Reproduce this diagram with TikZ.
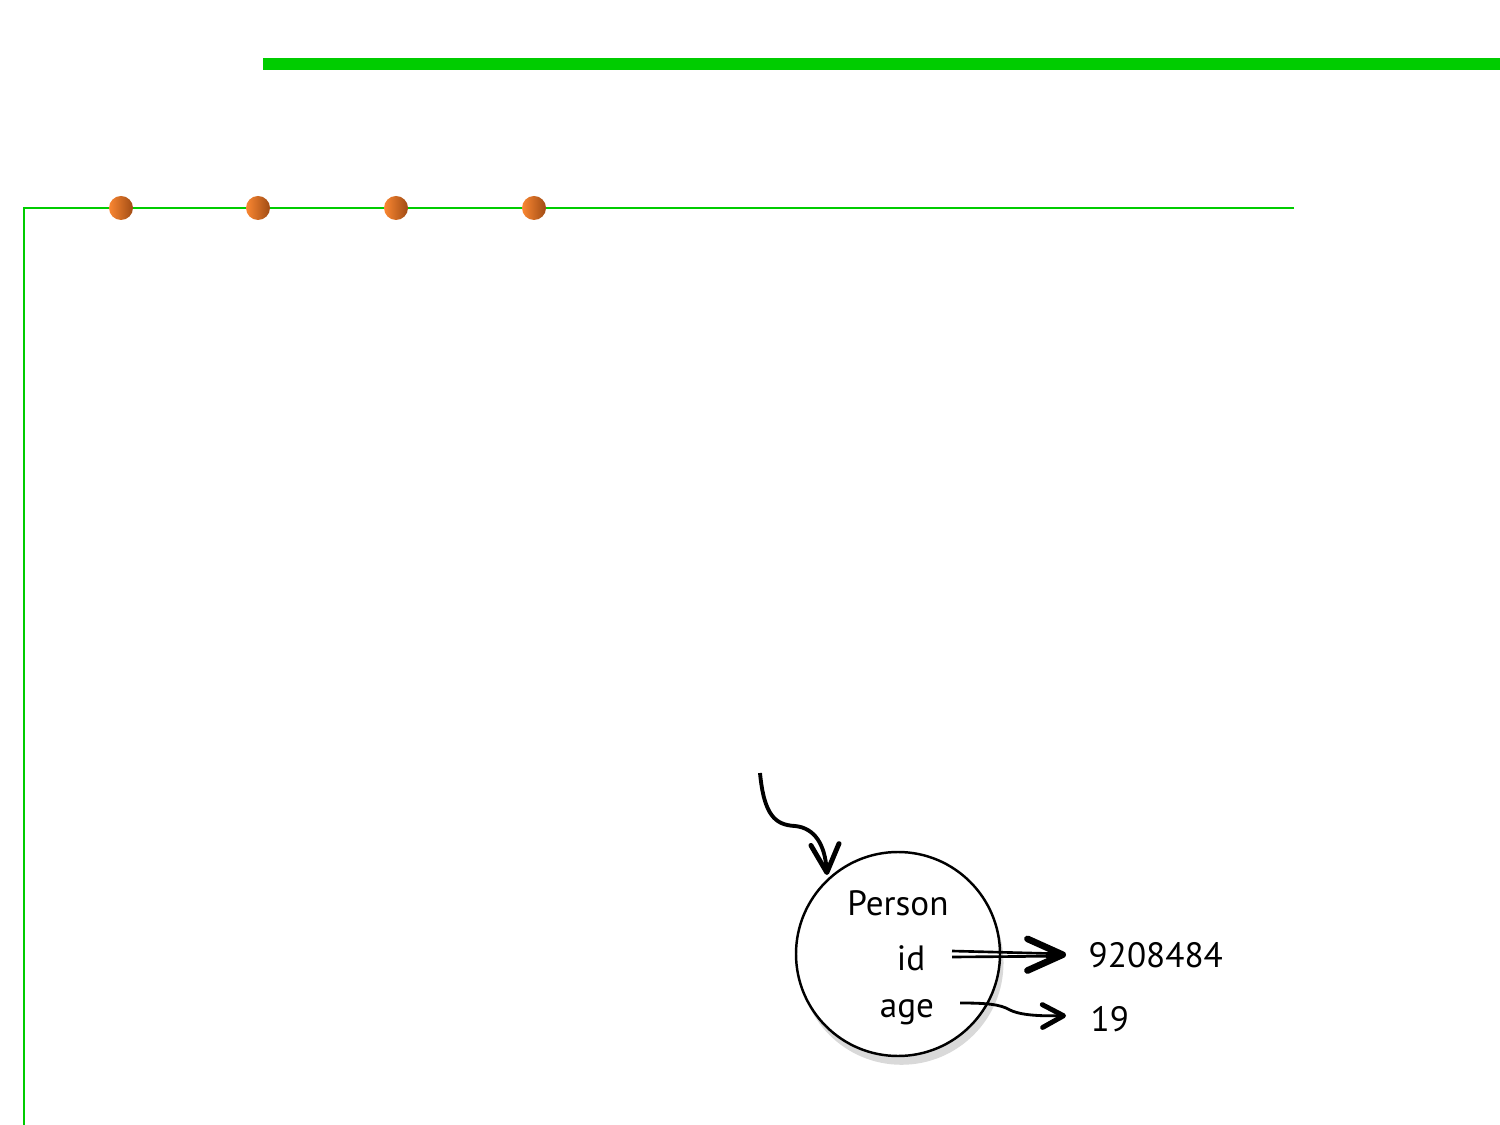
\documentclass[tikz,border=0pt]{standalone}
\usepackage{fontspec}
\setmainfont{PT Sans}
\usetikzlibrary{arrows.meta,shadows}
\definecolor{barg}{RGB}{0,204,0}
\definecolor{dotl}{RGB}{250,135,50}
\definecolor{dotd}{RGB}{160,75,20}
\newlength{\pxu}\setlength{\pxu}{0.01cm}
\tikzset{
  dotball/.style={circle,inner sep=0pt,minimum size=24\pxu,left color=dotl,right color=dotd,shading angle=90},
  lbl/.style={font=\fontsize{10}{12}\selectfont,inner sep=0pt,anchor=base},
  vlbl/.style={font=\fontsize{10}{12}\selectfont,inner sep=0pt,anchor=base west},
}
\begin{document}
\begin{tikzpicture}[x=0.01cm,y=-0.01cm]
\useasboundingbox (0,0) rectangle (1500,1125);
% green bars
\fill[barg] (263,58) rectangle (1500,70);
\draw[barg,line width=2\pxu] (1294,208) -- (24,208) -- (24,1125);
% dots
\foreach \i/\x in {1/121,2/258,3/396,4/534}{
  \node[dotball] (d\i) at (\x,208) {};
}
% circle
\node[circle,draw=black,line width=0.7pt,fill=white,minimum size=204\pxu,
      drop shadow={shadow xshift=1pt,shadow yshift=-2.5pt,opacity=0.3}] (obj) at (898,954) {};
\node[lbl] (person) at (898,915) {Person};
\node[lbl] (id) at (911,970) {id};
\node[lbl] (age) at (907,1017) {age};
\node[vlbl] (val1) at (1088,967) {9208484};
\node[vlbl] (val2) at (1090,1031) {19};
\coordinate (src) at (760,773);
\coordinate (idst) at (952,954);
\coordinate (agest) at (960,1003);
\coordinate (idtip) at ([xshift=-22\pxu]val1.west);
\coordinate (agetip) at ([xshift=-24\pxu,yshift=3\pxu]val2.west);
% incoming arrow
\draw[line width=1.1pt,-{Straight Barb[length=8pt,width=8pt,line width=1.4pt,round]}] (src) .. controls (764,815) and (775,825) .. (795,826)
  .. controls (815,828) and (825,845) .. (827,875);
% id arrow (double)
\draw[line width=0.75pt] ([yshift=3\pxu]idst) -- ([xshift=-10\pxu,yshift=1\pxu]idtip);
\draw[line width=0.75pt] ([yshift=-3\pxu]idst) -- ([xshift=-10\pxu,yshift=-1.5\pxu]idtip);
\draw[line width=1.6pt,-{Straight Barb[length=10pt,width=9pt,line width=1.9pt,round]}] ([xshift=-20\pxu]idtip) -- (idtip);
% age arrow
\draw[line width=0.8pt,-{Straight Barb[length=6pt,width=6.5pt,line width=1.4pt,round]}] (agest) .. controls (985,1003) and (1000,1004) .. (1010,1010)
  .. controls (1022,1016) and (1045,1016) .. (agetip);
\end{tikzpicture}
\end{document}
